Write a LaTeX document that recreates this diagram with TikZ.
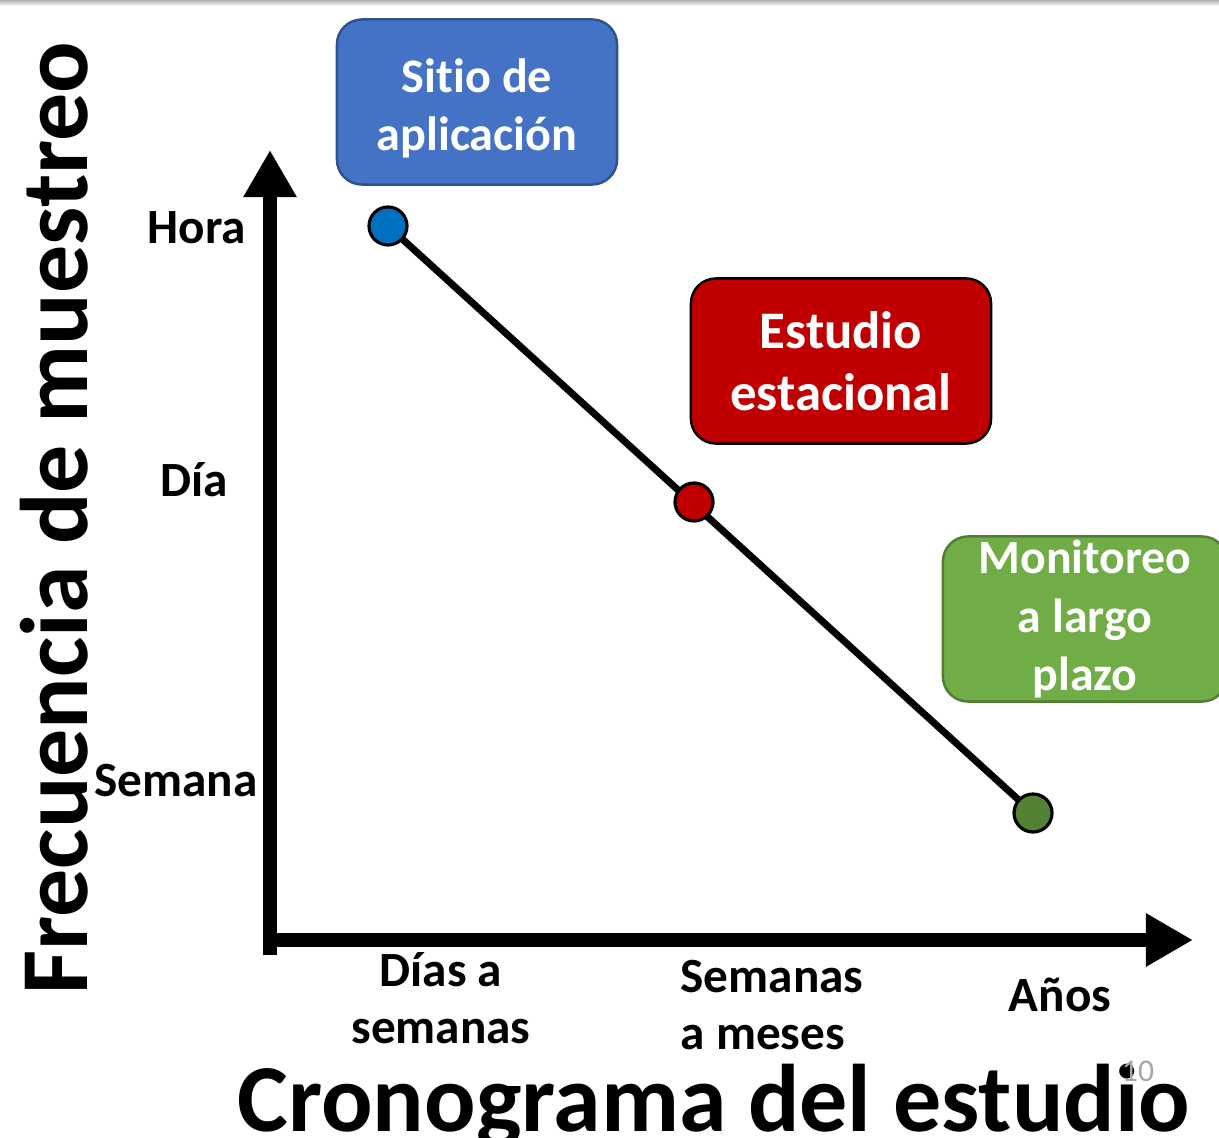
\documentclass[tikz,border=0pt]{standalone}
\usepackage{fontspec}
\setmainfont{Carlito}[Ligatures=NoCommon]
\usetikzlibrary{arrows.meta}

\definecolor{boxblue}{HTML}{4472C4}
\definecolor{boxblueline}{HTML}{2F528F}
\definecolor{boxred}{HTML}{C00000}
\definecolor{boxgreen}{HTML}{70AD47}
\definecolor{boxgreenline}{HTML}{507E32}
\definecolor{dotblue}{HTML}{0070C0}
\definecolor{dotgreen}{HTML}{548235}

\begin{document}
\begin{tikzpicture}[x=0.01cm,y=-0.01cm,
	catbox/.style={rounded corners=0.25cm,line width=0.7pt,minimum width=2.8cm,minimum height=1.65cm,align=center,text=white,font=\bfseries},
	dot/.style={circle,draw=black,line width=0.9pt,minimum size=0.38cm,inner sep=0pt},
	axis/.style={line width=4pt,-{Triangle[length=4.7mm,width=5mm]}},
	tick/.style={font=\fontsize{14}{16.3}\selectfont\bfseries,align=center}]
	\useasboundingbox (0,0) rectangle (1219,1137);
	\clip (0,0) rectangle (1219,1137);
	% slide edge
	\shade[top color=gray!60,bottom color=white] (0,0) rectangle (1219,6);

	% Axes
	\coordinate (o1) at (270,955);
	\coordinate (ytip) at (270,150);
	\coordinate (o2) at (263,940);
	\coordinate (xtip) at (1193,940);
	\draw[axis] (o1) -- (ytip);
	\draw[axis] (o2) -- (xtip);

	% Axis titles
	\node[rotate=90,font=\fontsize{27.3}{30}\selectfont\bfseries] (ytitle) at (54,518) {Frecuencia de muestreo};
	\node[font=\fontsize{27.3}{30}\selectfont\bfseries] (xtitle) at (714,1106) {Cronograma del estudio};
	\node[text=gray!70,font=\fontsize{9}{10}\selectfont] (pagenum) at (1138,1071) {10};

	% Frequency ticks
	\node[tick] (hora) at (197,228) {Hora};
	\node[tick] (dia) at (194,480) {Día};
	\node[tick] (semana) at (176,781) {Semana};

	% Time ticks
	\node[tick] (dias) at (441,998) {Días a\\semanas};
	\node[tick,align=left] (semanas) at (772,1005) {Semanas\\a meses};
	\node[tick] (anos) at (1060,995) {Años};

	% Trend line
	\coordinate (pa) at (388,226);
	\coordinate (pb) at (694,502);
	\coordinate (pc) at (1033,813);
	\draw[line width=2pt] (pa) -- (pc);
	\node[dot,fill=dotblue] (da) at (pa) {};
	\node[dot,fill=boxred] (db) at (pb) {};
	\node[dot,fill=dotgreen] (dc) at (pc) {};

	% Boxes
	\node[catbox,fill=boxblue,draw=boxblueline,font=\fontsize{13.7}{16.5}\selectfont\bfseries] (sitio) at (477,102) {\rule{0pt}{0.46cm}Sitio de\\aplicación};
	\node[catbox,fill=boxred,draw=black,minimum width=3cm,font=\fontsize{15}{17.6}\selectfont\bfseries] (estudio) at (841,361) {Estudio\\estacional};
	\node[catbox,fill=boxgreen,draw=boxgreenline,minimum width=2.84cm,inner ysep=0pt,font=\fontsize{13.6}{16.5}\selectfont\bfseries] (monitoreo) at (1085,619) {Monitoreo\\a largo\\plazo};
\end{tikzpicture}
\end{document}
